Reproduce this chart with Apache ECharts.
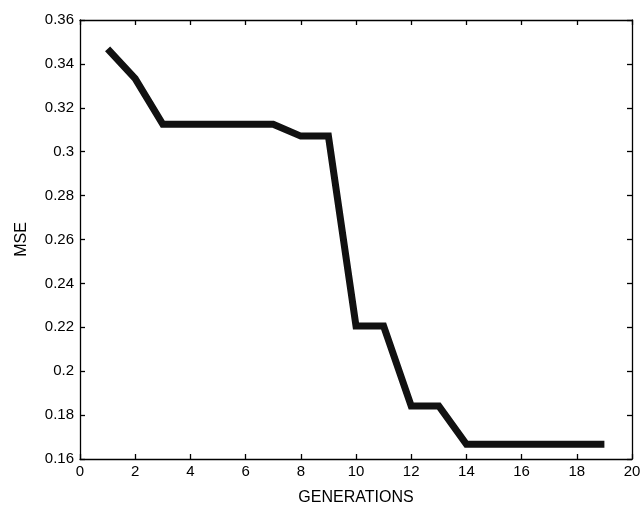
<!DOCTYPE html>
<html>
<head>
<meta charset="utf-8">
<script src="https://cdn.jsdelivr.net/npm/echarts@6/dist/echarts.min.js"></script>
<style>
  html, body { margin: 0; padding: 0; background: #fff; }
  #main { width: 644px; height: 505px; }
</style>
</head>
<body>
<div id="main"></div>
<script>
// generations and best mean squared error per generation
const generations = [1, 2, 3, 4, 5, 6, 7, 8, 9, 10, 11, 12, 13, 14, 15, 16, 17, 18, 19];
const mse = [0.3468, 0.3333, 0.3125, 0.3125, 0.3125, 0.3125, 0.3125, 0.3071, 0.3071,
  0.2206, 0.2206, 0.1842, 0.1842, 0.1667, 0.1667, 0.1667, 0.1667, 0.1667, 0.1667];

var chart = echarts.init(document.getElementById('main'), null, { renderer: 'canvas' });

const font = 'Liberation Sans, Arial, sans-serif';
const axisLine = { show: true, onZero: false, lineStyle: { color: '#000', width: 1.3 } };
const tick = { show: true, inside: true, length: 5, lineStyle: { color: '#000', width: 1.3 } };

var option = {
  backgroundColor: '#fff',
  animation: false,
  grid: { left: 80, right: 12, top: 20, bottom: 46, outerBoundsMode: 'none', containLabel: false },
  xAxis: [
    {
      type: 'value', min: 0, max: 20, interval: 2,
      name: 'GENERATIONS', nameLocation: 'middle', nameGap: 31,
      nameTextStyle: { fontFamily: font, fontSize: 16, color: '#000' },
      axisLine: axisLine, axisTick: tick,
      axisLabel: { fontFamily: font, fontSize: 15, color: '#000', margin: 5 },
      splitLine: { show: false }
    },
    {
      type: 'value', min: 0, max: 20, interval: 2, position: 'top',
      axisLine: axisLine, axisTick: tick, axisLabel: { show: false }, splitLine: { show: false }
    }
  ],
  yAxis: [
    {
      type: 'value', min: 0.16, max: 0.36, interval: 0.02,
      name: 'MSE', nameLocation: 'middle', nameGap: 50, nameRotate: 90,
      nameTextStyle: { fontFamily: font, fontSize: 16, color: '#000' },
      axisLine: axisLine, axisTick: tick,
      axisLabel: {
        fontFamily: font, fontSize: 15, color: '#000', margin: 6,
        formatter: function (v) { return String(parseFloat(v.toFixed(2))); }
      },
      splitLine: { show: false }
    },
    {
      type: 'value', min: 0.16, max: 0.36, interval: 0.02, position: 'right',
      axisLine: axisLine, axisTick: tick, axisLabel: { show: false }, splitLine: { show: false }
    }
  ],
  series: [
    {
      type: 'line',
      data: generations.map(function (g, i) { return [g, mse[i]]; }),
      showSymbol: false,
      lineStyle: { color: '#111', width: 7, join: 'miter' }
    }
  ]
};

chart.setOption(option);
window.addEventListener('resize', chart.resize);
</script>
</body>
</html>
